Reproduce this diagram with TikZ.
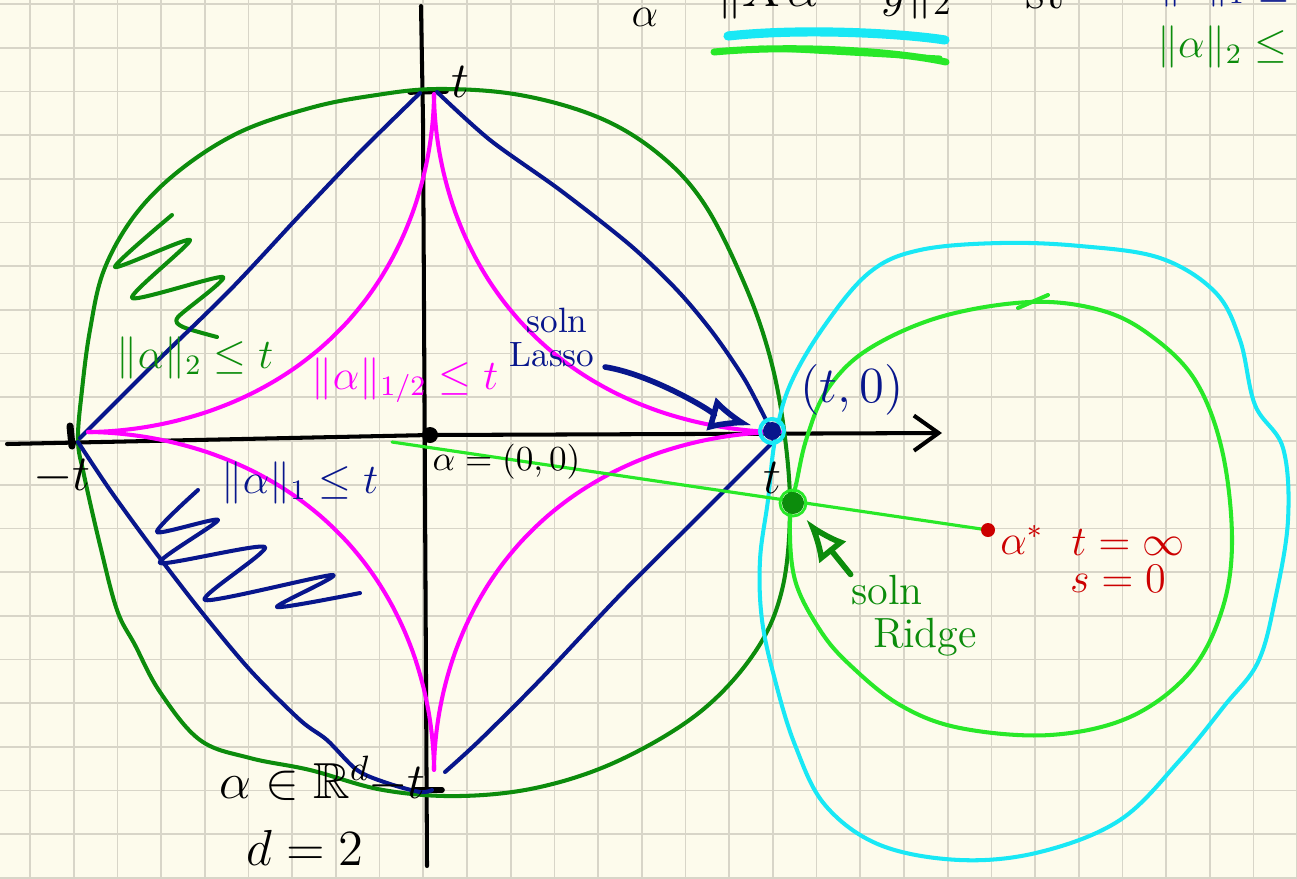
\documentclass[tikz,border=0pt]{standalone}
\usepackage{amsmath,amssymb}
\usepackage{tikz}
\usetikzlibrary{arrows.meta,calc,positioning}
\definecolor{paper}{RGB}{253,251,236}
\definecolor{gridline}{RGB}{216,213,200}
\definecolor{lassoblue}{RGB}{8,22,140}
\definecolor{ridgegreen}{RGB}{12,140,12}
\definecolor{brightgreen}{RGB}{40,232,40}
\definecolor{lossaqua}{RGB}{25,232,245}
\definecolor{halfpink}{RGB}{255,0,255}
\definecolor{starred}{RGB}{204,0,0}

\begin{document}
\begin{tikzpicture}[x=0.01cm,y=-0.01cm,line cap=round,line join=round,
  pen/.style={line width=1.15pt},
  txt/.style={font=\Large,inner sep=0pt},
  lab/.style={font=\large,inner sep=0pt},
  tag/.style={font=\normalsize,inner sep=0pt}]
  \fill[paper] (0,0) rectangle (1297,878);
  \useasboundingbox (0,0) rectangle (1297,878);
  \clip (0,0) rectangle (1297,878);
  \foreach \i in {0,...,29}
    \draw[gridline,line width=0.5pt] ({30+43.7*\i},0) -- ({30+43.7*\i},878);
  \foreach \j in {0,...,20}
    \draw[gridline,line width=0.5pt] (0,{4+43.7*\j}) -- (1297,{4+43.7*\j});

  \coordinate (O) at (430,435);
  \coordinate (A) at (772,431);
  \coordinate (R) at (793,503);
  \coordinate (S) at (988,530);
  \coordinate (L0) at (392,442);

  \draw[pen] (421,6) -- (423,120) -- (427,866);
  \draw[pen,-{Straight Barb[length=7pt,width=10pt]}] (7,444) -- (O) -- (942,433);
  \draw[line width=2pt] (70,426) -- (72,446);
  \draw[line width=1.6pt] (410,92) -- (446,91);
  \draw[line width=1.6pt] (414,790) -- (442,790);
  \fill (O) circle[radius=0.08cm];

  \draw[ridgegreen,pen] plot[smooth cycle,tension=0.6] coordinates {(437,89) (520,95) (600,118) (660,155) (705,205) (745,285) (770,357) (784,430) (790,510) (782,590) (755,652) (700,712) (620,760) (540,787) (460,796) (383,790) (310,770) (250,758) (200,740) (160,692) (135,645) (117,610) (100,545) (84,475) (78,440) (82,390) (90,330) (104,270) (135,215) (180,170) (240,132) (310,108) (370,96)};
  \draw[ridgegreen,pen] plot[smooth,tension=0.4] coordinates {(172,215) (115,267) (190,240) (132,298) (223,277) (178,317) (183,327) (217,337)};

  \draw[lassoblue,pen] plot[smooth,tension=0.5] coordinates {(80,438) (150,368) (230,290) (300,215) (360,152) (420,93)};
  \draw[lassoblue,pen] plot[smooth,tension=0.5] coordinates {(437,92) (490,140) (560,190) (630,245) (677,290) (713,333) (745,380) (770,428)};
  \draw[lassoblue,pen] plot[smooth,tension=0.5] coordinates {(775,440) (700,515) (620,595) (540,680) (480,740) (445,772)};
  \draw[lassoblue,pen] plot[smooth,tension=0.5] coordinates {(78,442) (110,490) (150,545) (200,610) (250,670) (300,720) (327,740) (357,770) (387,783) (420,792) (432,790)};
  \draw[lassoblue,pen] plot[smooth,tension=0.4] coordinates {(198,490) (157,532) (218,520) (160,563) (265,547) (205,600) (333,575) (277,607) (360,593)};

  \foreach \sx/\sy in {1/1,-1/1,1/-1,-1/-1}
    \draw[halfpink,pen] plot[domain=0:90,samples=60,smooth] ({434+\sx*346*(cos(\x))^3.6},{432-\sy*338*(sin(\x))^3.6});

  \draw[lossaqua,pen] plot[smooth cycle,tension=0.6] coordinates {(775,440) (790,385) (825,325) (870,272) (920,250) (1000,243) (1080,246) (1160,258) (1215,292) (1240,340) (1255,405) (1283,448) (1288,520) (1275,600) (1258,662) (1225,705) (1180,760) (1120,820) (1040,852) (960,860) (880,845) (825,805) (795,745) (775,680) (762,620) (760,560) (768,500)};
  \draw[brightgreen,pen] plot[smooth cycle,tension=0.6] coordinates {(1030,302) (940,317) (867,350) (827,390) (807,437) (797,480) (790,520) (795,580) (820,630) (850,665) (900,705) (960,728) (1050,735) (1130,717) (1190,672) (1222,610) (1232,540) (1222,450) (1195,380) (1150,335) (1100,310)};
  \draw[brightgreen,pen] (1018,308) -- (1048,295);

  \draw[brightgreen,line width=0.9pt] (L0) -- (S);
  \fill[starred] (S) circle[radius=0.07cm];
  \fill[lassoblue] (A) circle[radius=0.09cm];
  \draw[lossaqua,pen] (A) circle[radius=0.12cm];
  \fill[ridgegreen] (R) circle[radius=0.11cm];
  \draw[brightgreen,line width=0.8pt] (R) circle[radius=0.13cm];

  \draw[lossaqua,line width=2.6pt] (728,36) .. controls (800,28) and (900,33) .. (945,40);
  \draw[brightgreen,line width=2pt] (714,52) .. controls (800,44) and (900,52) .. (946,62);
  \draw[brightgreen,line width=1.4pt] (760,48) -- (940,58);

  \node[lab] (amin) at (645,17) {$\alpha$};
  \node[txt,anchor=south] (obj) at (835,20) {$\|X\alpha-y\|_2$};
  \node[txt,anchor=south] (st) at (1045,10) {st};
  \node[lab,text=lassoblue,anchor=south] (consA) at (1225,8) {$\|\alpha\|_1\le$};
  \node[lab,text=ridgegreen] (consB) at (1222,47) {$\|\alpha\|_2\le$};

  \node[lab,text=ridgegreen] (ballB) at (195,358) {$\|\alpha\|_2\le t$};
  \node[lab,text=halfpink] (ballH) at (405,380) {$\|\alpha\|_{1/2}\le t$};
  \node[lab,text=lassoblue] (ballA) at (300,483) {$\|\alpha\|_1\le t$};
  \node[tag,anchor=west] (orig) at (432,462) {$\alpha=(0,0)$};
  \node[txt] (mL) at (62,477) {$-t$};
  \node[txt] (pT) at (460,82) {$t$};
  \node[txt] (mB) at (397,785) {$-t$};
  \node[txt] (pR) at (772,478) {$t$};
  \node[txt,text=lassoblue] (tz) at (852,390) {$(t,0)$};
  \node[txt] (space) at (295,778) {$\alpha\in\mathbb{R}^d$};
  \node[txt] (dim) at (305,848) {$d=2$};

  \node[tag,text=lassoblue] (solnL) at (557,320) {soln};
  \node[tag,text=lassoblue] (lassoL) at (552,355) {Lasso};
  \node[lab,text=ridgegreen] (solnR) at (887,590) {soln};
  \node[lab,text=ridgegreen] (ridgeR) at (925,637) {Ridge};
  \node[lab,text=starred] (astar) at (1022,540) {$\alpha^*$};
  \node[lab,text=starred] (tinf) at (1128,543) {$t=\infty$};
  \node[lab,text=starred] (szero) at (1118,579) {$s=0$};

  \draw[lassoblue,line width=1.6pt,shorten >=6pt,-{Latex[open,length=12pt,width=10pt]}] (lassoL.east) ++(10,12) .. controls +(50,8) and +(-50,-14) .. (A);
  \draw[ridgegreen,line width=1.6pt,shorten >=6pt,-{Latex[open,length=12pt,width=10pt]}] (solnR.north west) -- (R);
\end{tikzpicture}
\end{document}
